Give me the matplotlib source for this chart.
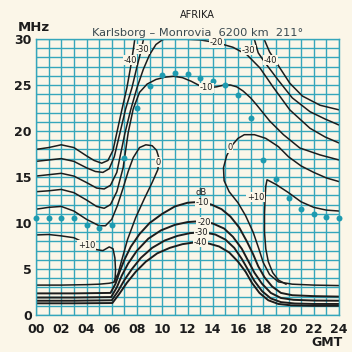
import matplotlib
matplotlib.use("Agg")
import matplotlib.pyplot as plt
import numpy as np

plt.rcParams["font.family"] = ["DejaVu Sans"]

CREAM = "#fbf6e8"
GRID = "#35a6bb"
DOT = "#1e9bb0"
INK = "#1c1c1c"

# teal dots, one per full hour GMT (MHz)
dot_hours = list(range(25))
dot_mhz = [10.5, 10.5, 10.5, 10.5, 9.8, 9.5, 9.8, 17.1, 22.5, 24.9, 26.1, 26.3,
           26.2, 25.8, 25.4, 25.0, 23.9, 21.4, 16.8, 14.8, 12.7, 11.5, 11.0, 10.65, 10.5]

# upper contours (hour, MHz)
m40_up_left = [(0, 18.0), (1, 18.2), (2, 18.5), (3, 18.2), (4, 17.3), (4.6, 16.8), (5.2, 16.5),
               (5.7, 16.8), (6.1, 17.9), (6.4, 19.8), (6.8, 22.3), (7.2, 24.7), (7.5, 27.0),
               (7.7, 28.8), (7.85, 30.2)]
m40_up_right = [(18.0, 30.2), (18.5, 28.6), (19.2, 27.1), (20.1, 25.2), (21.1, 23.8),
                (22.5, 22.8), (24, 22.3)]
m30_up_left = [(0, 16.7), (1, 16.85), (2, 17.0), (3, 16.7), (4, 16.0), (4.7, 15.6), (5.3, 15.5),
               (5.8, 15.9), (6.2, 17.2), (6.65, 19.8), (7.1, 22.4), (7.6, 24.7), (8.0, 27.0),
               (8.3, 28.6), (8.55, 30.2)]
m30_up_right = [(17.25, 30.2), (17.6, 28.5), (18.1, 27.5), (19.2, 25.5), (20.3, 23.6),
                (21.7, 22.1), (22.9, 21.3), (24, 20.65)]
m20_up = [(0, 15.1), (1, 15.25), (2, 15.4), (3, 15.1), (4, 14.4), (4.8, 13.8), (5.4, 13.7),
          (5.9, 14.1), (6.4, 15.5), (7.05, 19.8), (7.5, 22.3), (8.0, 24.7), (8.5, 26.7),
          (9.0, 28.3), (9.5, 29.4), (10.0, 29.9), (10.8, 30.3), (11.56, 30.0), (13.0, 29.9),
          (14.34, 29.6), (15.6, 29.1), (16.7, 28.3), (17.74, 26.85), (18.77, 24.8),
          (20.1, 22.3), (21.7, 20.3), (22.9, 19.35), (24, 18.7)]
m10_up = [(0, 13.4), (1, 13.5), (2, 13.65), (3, 13.3), (4, 12.5), (4.8, 11.8), (5.4, 11.6),
          (5.9, 12.0), (6.4, 13.4), (6.9, 16.0), (7.3, 19.8), (7.7, 22.4), (8.2, 24.2),
          (8.8, 25.1), (9.5, 25.6), (10.2, 25.85), (10.9, 25.95), (11.6, 25.8), (12.3, 25.4),
          (13.0, 24.9), (13.6, 24.7), (14.3, 24.8), (14.9, 25.0), (15.4, 25.0), (15.9, 24.8),
          (16.4, 24.35), (17.0, 23.6), (17.5, 22.8), (18.5, 21.1), (19.6, 19.6),
          (20.9, 18.15), (22.5, 17.4), (24, 16.85)]
zero_left = [(0, 3.25), (2, 3.25), (4, 3.3), (5, 3.35), (5.8, 3.45), (6.15, 3.55), (6.5, 4.5),
             (6.8, 6.0), (7.25, 8.2), (7.9, 10.6), (8.6, 12.7), (9.2, 14.4), (9.65, 15.8),
             (9.75, 17.0), (9.55, 17.9), (9.2, 18.4), (8.7, 18.5), (8.2, 18.2), (7.7, 17.1),
             (7.3, 15.6), (6.9, 13.8), (6.45, 11.9), (6.0, 10.4), (5.5, 9.7), (5.0, 9.7),
             (4.0, 10.4), (3.0, 11.3), (2.0, 11.8), (1.0, 11.7), (0, 11.5)]
zero_right = [(24, 3.2), (22, 3.25), (20.3, 3.35), (19.2, 3.6), (18.5, 4.4), (18.0, 5.7),
              (17.65, 7.2), (17.2, 9.0), (16.6, 10.8), (16.0, 12.2), (15.3, 13.4), (14.9, 14.6),
              (14.85, 16.0), (15.1, 17.3), (15.5, 18.4), (16.0, 19.2), (16.5, 19.6), (17.3, 19.6),
              (18.2, 19.2), (19.2, 18.3), (20.0, 17.2), (21, 16.2), (22, 15.5), (23, 14.9),
              (24, 14.5)]
p10_left = [(0, 8.7), (1, 8.75), (2, 8.6), (3, 8.4), (3.6, 8.0), (4.2, 7.5), (4.8, 7.1),
            (5.3, 7.0), (5.8, 7.4), (6.1, 7.2), (6.25, 6.2), (6.3, 4.9), (6.25, 3.6)]
p10_right = [(19.8, 3.35), (19.2, 3.8), (18.75, 4.6), (18.4, 5.8), (18.2, 7.2), (18.1, 9.0),
             (18.1, 11.0), (18.15, 12.8), (18.2, 14.0), (18.3, 14.7), (19.0, 14.2), (20.0, 13.3),
             (21.0, 12.3), (22.0, 11.7), (23.0, 11.4), (24.0, 11.3)]

# lower (absorption) contours
m10_low = [(0, 2.35), (3, 2.35), (5.9, 2.4), (6.3, 3.4), (6.6, 4.6), (7.0, 6.0), (7.5, 7.4),
           (8.2, 8.8), (9.0, 10.0), (10.0, 11.0), (11.0, 11.8), (12.0, 12.2), (13.0, 12.3),
           (13.9, 12.0), (14.7, 11.5), (15.4, 10.7), (16.1, 9.5), (16.7, 8.0), (17.2, 6.6),
           (17.6, 5.3), (18.1, 4.1), (18.7, 3.1), (19.4, 2.4), (20.3, 2.15), (22, 2.05), (24, 2.0)]
m20_low = [(0, 1.9), (3, 1.9), (5.95, 1.95), (6.4, 3.0), (6.8, 4.3), (7.3, 5.6), (8.0, 7.0),
           (8.9, 8.3), (9.9, 9.2), (11.0, 9.8), (12.0, 10.1), (13.0, 10.2), (14.0, 9.95),
           (14.9, 9.4), (15.6, 8.5), (16.3, 7.2), (16.8, 5.9), (17.3, 4.6), (17.9, 3.4),
           (18.6, 2.4), (19.4, 1.85), (20.4, 1.65), (22, 1.57), (24, 1.55)]
m30_low = [(0, 1.55), (3, 1.55), (6.0, 1.6), (6.5, 2.6), (7.0, 3.8), (7.6, 5.0), (8.3, 6.2),
           (9.2, 7.3), (10.2, 8.1), (11.2, 8.6), (12.2, 8.9), (13.2, 9.0), (14.2, 8.75),
           (15.0, 8.2), (15.7, 7.3), (16.3, 6.1), (16.8, 4.9), (17.3, 3.7), (17.9, 2.6),
           (18.6, 1.8), (19.4, 1.4), (20.5, 1.25), (22, 1.2), (24, 1.2)]
m40_low = [(0, 1.27), (3, 1.27), (6.05, 1.3), (6.6, 2.3), (7.2, 3.5), (7.9, 4.7), (8.7, 5.8),
           (9.6, 6.7), (10.6, 7.3), (11.6, 7.7), (12.6, 7.9), (13.6, 7.8), (14.5, 7.45),
           (15.3, 6.8), (16.0, 5.8), (16.6, 4.7), (17.1, 3.5), (17.7, 2.4), (18.4, 1.6),
           (19.2, 1.2), (20.2, 1.05), (22, 1.0), (24, 1.0)]

upper_curves = [m40_up_left, m40_up_right, m30_up_left, m30_up_right, m20_up, m10_up,
                zero_left, zero_right, p10_left, p10_right]
lower_curves = [m10_low, m20_low, m30_low, m40_low]

# contour labels (text, hour, MHz)
labels = [("-40", 7.45, 27.7), ("-30", 8.4, 28.9), ("-20", 14.3, 29.6), ("-30", 16.8, 28.8),
          ("-40", 18.6, 27.7), ("-10", 13.5, 24.7), ("0", 9.7, 16.6), ("0", 15.35, 18.2),
          ("+10", 4.0, 7.6), ("+10", 17.4, 12.8), ("-10", 13.2, 12.2), ("-20", 13.3, 10.1),
          ("-30", 13.1, 9.0), ("-40", 13.0, 7.9)]

x_ticks = list(range(0, 25, 2))
x_ticklabels = ["%02d" % h for h in x_ticks]
y_ticks = [0, 5, 10, 15, 20, 25, 30]

fig = plt.figure(figsize=(3.52, 3.52), dpi=100, facecolor=CREAM)
ax = fig.add_axes([36 / 352, 1 - 315 / 352, 303 / 352, 276 / 352])
ax.set_facecolor(CREAM)
ax.set_xlim(0, 24)
ax.set_ylim(0, 30)

ax.set_xticks(x_ticks)
ax.set_xticklabels(x_ticklabels)
ax.set_xticks(range(25), minor=True)
ax.set_yticks(y_ticks)
ax.set_yticks(range(31), minor=True)
ax.grid(True, which="both", color=GRID, lw=1.0, zorder=0)
ax.set_axisbelow(True)
ax.tick_params(which="both", length=0)
ax.tick_params(axis="x", pad=6)
ax.tick_params(axis="y", pad=3)
for lab in ax.get_xticklabels() + ax.get_yticklabels():
    lab.set_fontsize(9)
    lab.set_fontweight("bold")
    lab.set_color(INK)
for sp in ax.spines.values():
    sp.set_color(GRID)
    sp.set_linewidth(1.0)

for c in upper_curves:
    pts = np.array(c)
    ax.plot(pts[:, 0], pts[:, 1], color=INK, lw=1.1, zorder=2)
for c in lower_curves:
    pts = np.array(c)
    ax.plot(pts[:, 0], pts[:, 1], color=INK, lw=1.4, zorder=2)

ax.plot(dot_hours, dot_mhz, "o", color=DOT, ms=4.3, mec="none", zorder=3, clip_on=False)

for txt, x, y in labels:
    ax.text(x, y, txt, fontsize=6, ha="center", va="center", color=INK, zorder=4,
            bbox=dict(boxstyle="square,pad=0.08", fc=CREAM, ec="none"))
ax.text(13.1, 13.3, "dB", fontsize=6, ha="center", va="center", color=INK, zorder=4)

fig.text(0.560, 0.957, "AFRIKA", fontsize=7, ha="center", va="center", color=INK)
fig.text(0.561, 0.906, "Karlsborg – Monrovia  6200 km  211°", fontsize=8.2,
         ha="center", va="center", color="#3b4a50")
fig.text(0.051, 0.922, "MHz", fontsize=9.5, fontweight="bold", ha="left", va="center", color=INK)
fig.text(0.974, 0.026, "GMT", fontsize=9, fontweight="bold", ha="right", va="center", color=INK)

fig.savefig("out.png", dpi=100, facecolor=CREAM)
